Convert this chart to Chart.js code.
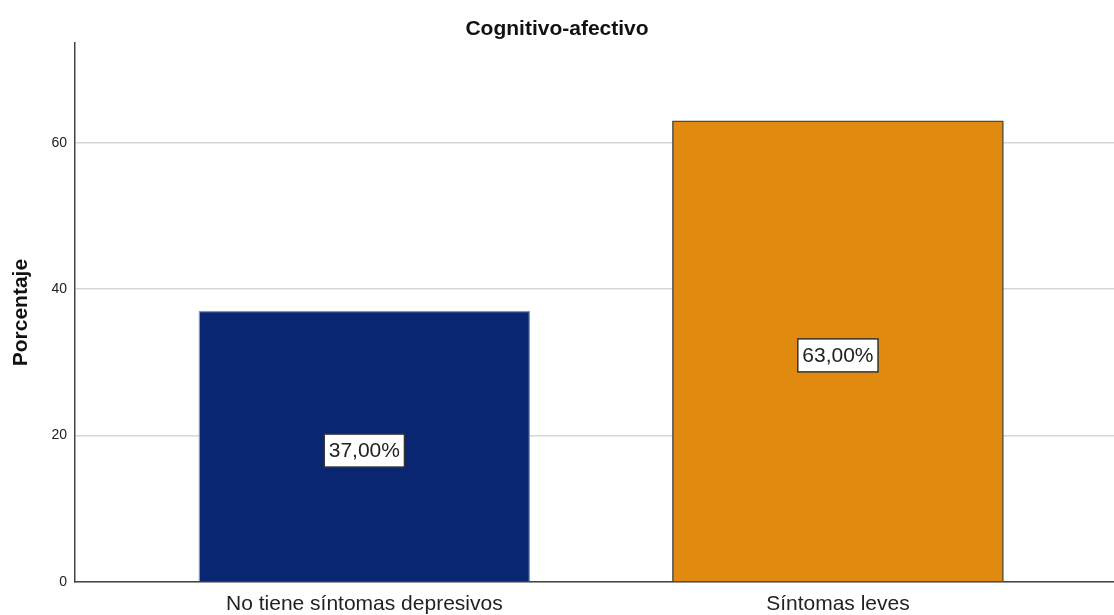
<!DOCTYPE html>
<html>
<head>
<meta charset="utf-8">
<script src="https://cdn.jsdelivr.net/npm/chart.js@4"></script>
<style>
  html, body { margin: 0; padding: 0; background: #fff; }
  #wrap { width: 1114px; height: 615px; }
</style>
</head>
<body>
<div id="wrap"><canvas id="grafico"></canvas></div>
<script>
// datos
var categorias = ['No tiene síntomas depresivos', 'Síntomas leves'];
var porcentajes = [37, 63];
var colores = ['#0b2670', '#e08a10'];
var bordes = ['#8494bf', '#4a4a4a'];
var marcasY = [0, 20, 40, 60];

var fuente = '"Liberation Sans", Arial, sans-serif';

// etiqueta con caja blanca en el centro de cada barra
var etiquetas = {
    id: 'etiquetas',
    afterDatasetsDraw: function(chart) {
        var ctx = chart.ctx;
        var yScale = chart.scales.y;
        var meta = chart.getDatasetMeta(0);
        ctx.save();
        ctx.font = '21px ' + fuente;
        ctx.textAlign = 'center';
        ctx.textBaseline = 'middle';
        meta.data.forEach(function(bar, i) {
            var v = porcentajes[i];
            var txt = v.toFixed(2).replace('.', ',') + '%';
            var cx = bar.x;
            var cy = yScale.getPixelForValue(v / 2) + 4;
            var w = ctx.measureText(txt).width + 9;
            var h = 33;
            ctx.fillStyle = '#fff';
            ctx.fillRect(cx - w / 2, cy - h / 2, w, h);
            ctx.strokeStyle = '#333';
            ctx.lineWidth = 1.5;
            ctx.strokeRect(cx - w / 2, cy - h / 2, w, h);
            ctx.fillStyle = '#222';
            ctx.fillText(txt, cx, cy + 1);
        });
        ctx.restore();
    }
};

var ctx = document.getElementById('grafico').getContext('2d');
var grafico = new Chart(ctx, {
    type: 'bar',
    data: {
        datasets: [{
            label: 'Porcentaje',
            data: porcentajes.map(function(v, i) { return { x: i, y: v }; }),
            backgroundColor: colores,
            borderColor: bordes,
            borderWidth: 1.5,
            barThickness: 331
        }]
    },
    plugins: [etiquetas],
    options: {
        responsive: true,
        maintainAspectRatio: false,
        animation: false,
        plugins: {
            legend: { display: false },
            tooltip: { enabled: false },
            title: {
                display: true,
                text: 'Cognitivo-afectivo',
                color: '#111',
                font: { family: fuente, size: 21, weight: 'bold' },
                padding: { top: 17, bottom: 1 }
            }
        },
        scales: {
            x: {
                type: 'linear',
                min: -0.611,
                max: 1.583,
                offset: false,
                afterBuildTicks: function(scale) {
                    scale.ticks = categorias.map(function(c, i) { return { value: i }; });
                },
                afterFit: function(scale) { scale.height = 33; },
                ticks: {
                    autoSkip: false,
                    maxRotation: 0,
                    padding: 10,
                    color: '#222',
                    font: { family: fuente, size: 21 },
                    callback: function(v) { return categorias[v]; }
                },
                grid: { display: false, drawTicks: false },
                border: { display: true, color: '#444', width: 1.5 }
            },
            y: {
                min: 0,
                max: 73.6,
                afterBuildTicks: function(scale) {
                    scale.ticks = marcasY.map(function(v) { return { value: v }; });
                },
                afterFit: function(scale) { scale.width = 75; },
                ticks: {
                    padding: 8,
                    color: '#222',
                    font: { family: fuente, size: 14 }
                },
                grid: { color: '#d6d6d6', lineWidth: 1.5, drawTicks: false },
                border: { display: true, color: '#444', width: 1.5 },
                title: {
                    display: true,
                    text: 'Porcentaje',
                    color: '#111',
                    font: { family: fuente, size: 21, weight: 'bold' },
                    padding: { top: 9, bottom: 0 }
                }
            }
        }
    }
});
</script>
</body>
</html>
